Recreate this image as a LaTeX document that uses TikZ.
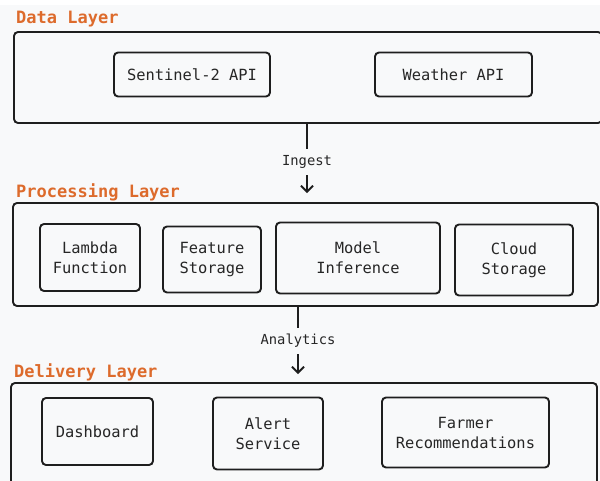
\documentclass[tikz,border=0pt]{standalone}
\usepackage{fontspec}
\setmonofont{DejaVu Sans Mono}
\usetikzlibrary{arrows.meta}
\definecolor{bg}{HTML}{F8F9FA}
\definecolor{ttl}{HTML}{DD6B2C}
\definecolor{ink}{HTML}{1E1E1E}
\definecolor{txt}{HTML}{262626}
\tikzset{
  layerbox/.style={draw=ink, line width=1.9pt, rounded corners=4pt, inner sep=0pt},
  comp/.style={draw=ink, line width=1.9pt, rounded corners=4pt, inner sep=0pt, align=center,
    text=txt, font=\ttfamily\fontsize{15.4}{20}\selectfont},
  ttlstyle/.style={anchor=west, inner sep=0pt, text=ttl, font=\ttfamily\bfseries\fontsize{17}{20}\selectfont},
  lbl/.style={fill=bg, inner xsep=2pt, inner ysep=6.5pt, text=txt, font=\ttfamily\fontsize{13.8}{16}\selectfont},
  flow/.style={draw=ink, line width=1.9pt, -{Straight Barb[length=6pt,width=12pt,line width=1.9pt]}}
}
\begin{document}
\begin{tikzpicture}[x=1pt,y=-1pt]
\useasboundingbox (0,0) rectangle (600,481);
\fill[white] (0,0) rectangle (600,481);
\fill[bg] (0,5) rectangle (600,481);

% Layer boxes
\node[layerbox, minimum width=588pt, minimum height=91pt] (data) at (308,77.5) {};
\node[layerbox, minimum width=585pt, minimum height=103pt] (proc) at (305.5,254.5) {};
\node[layerbox, minimum width=586pt, minimum height=103pt] (deliv) at (304,434.5) {};

% Titles
\node[ttlstyle] (tdata) at (16,19) {Data Layer};
\node[ttlstyle] (tproc) at (16,192) {Processing Layer};
\node[ttlstyle] (tdeliv) at (14,372) {Delivery Layer};

% Data layer
\node[comp, minimum width=156pt, minimum height=44pt] (s2) at (192,74.5) {Sentinel-2 API};
\node[comp, minimum width=157pt, minimum height=44pt] (wx) at (453.5,74.5) {Weather API};

% Processing layer
\node[comp, minimum width=100pt, minimum height=67pt] (lambda) at (90,257.5) {Lambda\\Function};
\node[comp, minimum width=98pt, minimum height=66pt] (feat) at (212,259.5) {Feature\\Storage};
\node[comp, minimum width=164pt, minimum height=71pt] (model) at (358,258) {Model\\Inference};
\node[comp, minimum width=118pt, minimum height=71pt] (cloud) at (514,260) {Cloud\\Storage};

% Delivery layer
\node[comp, minimum width=111pt, minimum height=67pt] (dash) at (97.5,431.5) {Dashboard};
\node[comp, minimum width=110pt, minimum height=72pt] (alert) at (268,433.5) {Alert\\Service};
\node[comp, minimum width=167pt, minimum height=70pt] (farmer) at (465.5,432.5) {Farmer\\Recommendations};

% Connectors
\coordinate (ingx) at (307,0);
\coordinate (anx) at (298,0);
\draw[flow, shorten >=9pt] (data.south -| ingx) -- node[lbl, pos=0.49] (ing) {Ingest} (proc.north -| ingx);
\draw[flow, shorten >=8pt] (proc.south -| anx) -- node[lbl, pos=0.45] (ana) {Analytics} (deliv.north -| anx);
\end{tikzpicture}
\end{document}
